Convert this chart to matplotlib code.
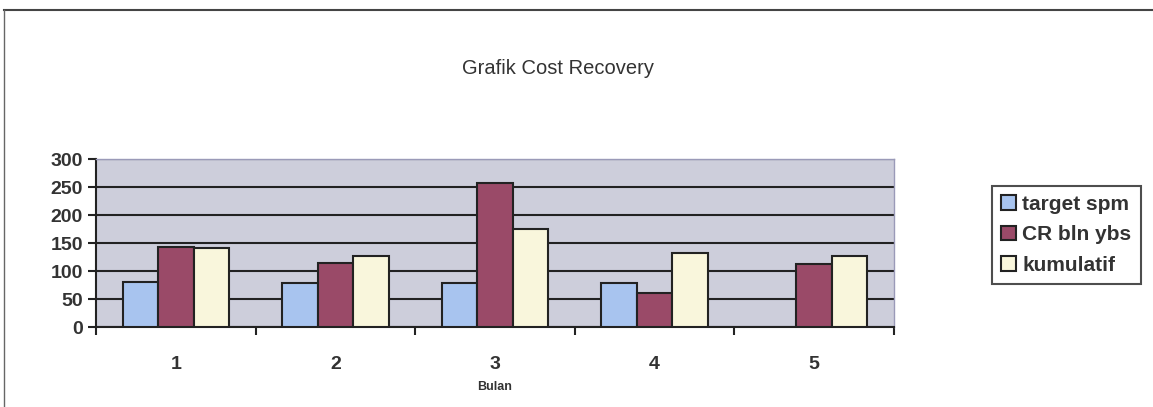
import numpy as np
import matplotlib.pyplot as plt

bulan = [1, 2, 3, 4, 5]
target_spm = [80, 79, 79, 79, np.nan]
cr_bln_ybs = [142, 115, 258, 60, 112]
kumulatif = [141, 127, 175, 132, 126]

plt.rcParams['font.family'] = ['Liberation Sans', 'DejaVu Sans']

fig = plt.figure(figsize=(11.53, 4.07), dpi=100)
ax = fig.add_axes([96/1153, 1 - 327/407, (894-96)/1153, (327-159)/407])

x = np.arange(len(bulan)) + 1
w = 1 / 4.5
series = [(target_spm, '#a8c4ef', 'target spm'),
          (cr_bln_ybs, '#9a4a68', 'CR bln ybs'),
          (kumulatif, '#f9f6dc', 'kumulatif')]
for i, (vals, col, lab) in enumerate(series):
    ax.bar(x + (i - 1) * w, vals, w, color=col, edgecolor='#222222',
           linewidth=1.5, label=lab, zorder=3)

ax.set_facecolor('#cdcedb')
ax.set_xlim(0.5, 5.5)
ax.set_ylim(0, 300)
ax.set_yticks(range(0, 301, 50))
ax.yaxis.grid(True, color='#222222', linewidth=1.5, zorder=1)
ax.set_axisbelow(True)
ax.set_xticks(x)
ax.set_xticklabels([str(b) for b in bulan], fontsize=14, fontweight='bold', color='#333333')
ax.set_xticks(np.arange(0.5, 6, 1), minor=True)
ax.tick_params(axis='x', which='major', length=0, pad=21)
ax.tick_params(axis='x', which='minor', length=6, width=1.5, color='#222222')
ax.tick_params(axis='y', length=6, width=1.5, color='#222222', labelsize=14, labelcolor='#333333')
for t in ax.get_yticklabels():
    t.set_fontweight('bold')
for s in ['top', 'right']:
    ax.spines[s].set_color('#9a9ab8')
    ax.spines[s].set_linewidth(1)
for s in ['left', 'bottom']:
    ax.spines[s].set_color('#222222')
    ax.spines[s].set_linewidth(1.5)

ax.set_xlabel('Bulan', fontsize=9, fontweight='bold', color='#333333', labelpad=6)

fig.text(558/1153, 1 - 68/407, 'Grafik Cost Recovery', ha='center', va='center',
         fontsize=14.5, color='#333333')

leg = fig.legend(loc='center left', bbox_to_anchor=(992/1153, 1 - 235/407),
                 frameon=True, fancybox=False, edgecolor='#222222',
                 prop={'size': 15, 'weight': 'bold'}, handlelength=0.7,
                 handleheight=0.7, handletextpad=0.3, labelspacing=0.55,
                 borderpad=0.45, borderaxespad=0)
leg.get_frame().set_linewidth(1.5)
for t in leg.get_texts():
    t.set_color('#333333')

# outer chart border (top and left visible)
fig.add_artist(plt.Line2D([4/1153, 1], [1 - 10/407, 1 - 10/407], color='#444444', linewidth=1.5))
fig.add_artist(plt.Line2D([4/1153, 4/1153], [0, 1 - 10/407], color='#666666', linewidth=1))

fig.savefig('out.png', dpi=100)
